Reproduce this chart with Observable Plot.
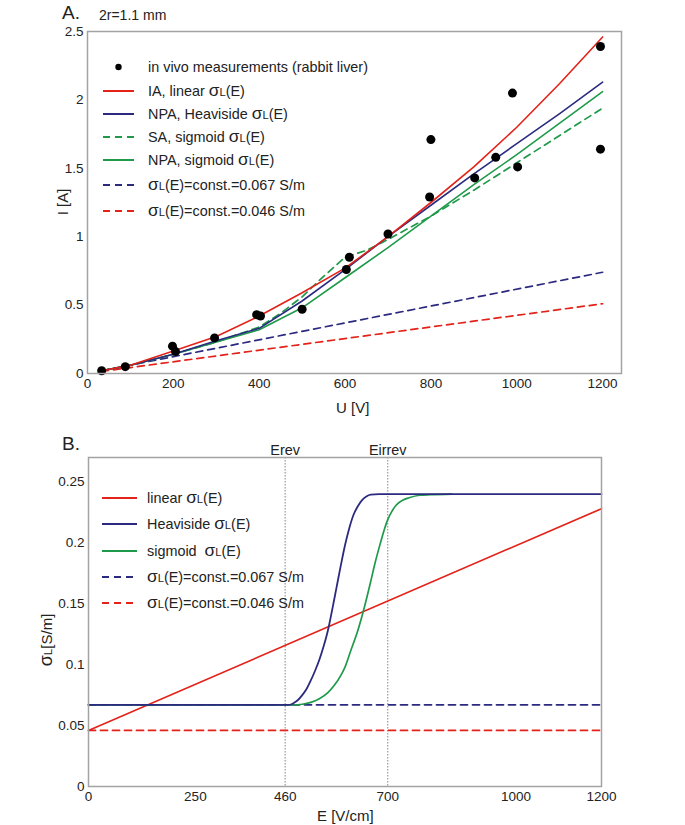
<!DOCTYPE html>
<html><head><meta charset="utf-8">
<script src="https://cdn.jsdelivr.net/npm/d3@7"></script>
<script src="https://cdn.jsdelivr.net/npm/@observablehq/plot@0.6"></script>
<style>
body{margin:0;background:#fff;font-family:"Liberation Sans",Arial,sans-serif;}
#wrap{position:relative;width:685px;height:825px;overflow:hidden;background:#fff}
#wrap svg{position:absolute;left:0}
.abs{position:absolute;white-space:nowrap;color:#222;line-height:1;transform:translateY(-50%)}
.sig{font-size:1.2em}
.L{font-size:0.78em}
</style></head><body><div id="wrap"></div>
<script>
// ---------- Panel A data ----------
const U_meas = [33, 88, 198, 205, 296, 394, 403, 500, 603, 610, 700, 797, 800, 902, 951, 990, 1002, 1195, 1195];
const I_meas = [0.02, 0.05, 0.2, 0.16, 0.26, 0.43, 0.42, 0.47, 0.76, 0.85, 1.02, 1.29, 1.71, 1.43, 1.58, 2.05, 1.51, 2.39, 1.64];
const U_model = [33, 100, 200, 300, 400, 500, 600, 700, 800, 900, 1000, 1100, 1200];
const I_IA_linear = [0.02, 0.06, 0.165, 0.27, 0.42, 0.59, 0.77, 1.0, 1.25, 1.51, 1.8, 2.12, 2.46];
const I_NPA_heaviside = [0.02, 0.06, 0.14, 0.24, 0.33, 0.53, 0.76, 1.0, 1.23, 1.46, 1.68, 1.9, 2.13];
const I_NPA_sigmoid = [0.02, 0.06, 0.14, 0.23, 0.32, 0.48, 0.7, 0.92, 1.15, 1.38, 1.6, 1.83, 2.06];
const U_SA = [33, 100, 200, 300, 400, 450, 500, 550, 600, 650, 700, 800, 900, 1000, 1100, 1200];
const I_SA_sigmoid = [0.02, 0.06, 0.14, 0.23, 0.34, 0.44, 0.56, 0.71, 0.85, 0.9, 0.98, 1.15, 1.34, 1.54, 1.74, 1.94];
const U_const = [33, 1200];
const I_const067 = [0.02, 0.74];
const I_const046 = [0.015, 0.51];
const xTicksA = [0, 200, 400, 600, 800, 1000, 1200];
const yTicksA = [0, 0.5, 1, 1.5, 2, 2.5];

// ---------- Panel B data ----------
const E_linear = [0, 1200];
const S_linear = [0.046, 0.228];
const E_heaviside = [0, 470, 480, 490, 500, 510, 520, 530, 540, 550, 560, 570, 580, 590, 600, 610, 620, 630, 640, 650, 660, 680, 1200];
const S_heaviside = [0.067, 0.067, 0.0685, 0.071, 0.075, 0.08, 0.087, 0.095, 0.104, 0.115, 0.128, 0.145, 0.163, 0.181, 0.198, 0.212, 0.223, 0.23, 0.235, 0.238, 0.2395, 0.24, 0.24];
const E_sigmoid = [0, 480, 500, 520, 540, 560, 575, 590, 600, 613, 630, 643, 660, 670, 683, 692, 700, 710, 720, 735, 750, 775, 800, 850];
const S_sigmoid = [0.067, 0.067, 0.0675, 0.069, 0.072, 0.077, 0.083, 0.091, 0.098, 0.111, 0.128, 0.144, 0.168, 0.183, 0.2, 0.211, 0.219, 0.226, 0.231, 0.235, 0.237, 0.239, 0.2395, 0.24];
const E_const = [0, 1200];
const S_const067 = [0.067, 0.067];
const S_const046 = [0.046, 0.046];
const E_marks = [460, 700];
const E_markLabels = ["Erev", "Eirrev"];
const xTicksB = [0, 250, 460, 700, 1000, 1200];
const yTicksB = [0, 0.05, 0.1, 0.15, 0.2, 0.25];

const RED = "#e32219", NAVY = "#2b2a80", GREEN = "#1f9a4a";
const zip = (xs, ys) => xs.map((x, i) => ({x, y: ys[i]}));
const fmt = d => String(d);
const style = {fontFamily: "Liberation Sans, Arial, sans-serif", fontSize: "13.5px", color: "#222", background: "transparent"};

const plotA = Plot.plot({
  width: 685, height: 420,
  marginTop: 31, marginBottom: 47, marginLeft: 87, marginRight: 64,
  x: {domain: [0, 1244]}, y: {domain: [0, 2.5]},
  style,
  marks: [
    Plot.axisX({ticks: xTicksA, tickSize: 0, tickPadding: 5, label: null, tickFormat: fmt}),
    Plot.axisY({ticks: yTicksA, tickSize: 0, tickPadding: 4, label: null, tickFormat: fmt}),
    Plot.line(zip(U_const, I_const067), {x: "x", y: "y", stroke: NAVY, strokeWidth: 1.7, strokeDasharray: "7,5"}),
    Plot.line(zip(U_const, I_const046), {x: "x", y: "y", stroke: RED, strokeWidth: 1.7, strokeDasharray: "7,5"}),
    Plot.line(zip(U_SA, I_SA_sigmoid), {x: "x", y: "y", stroke: GREEN, strokeWidth: 1.7, strokeDasharray: "7,5"}),
    Plot.line(zip(U_model, I_NPA_sigmoid), {x: "x", y: "y", stroke: GREEN, strokeWidth: 1.6}),
    Plot.line(zip(U_model, I_NPA_heaviside), {x: "x", y: "y", stroke: NAVY, strokeWidth: 1.6}),
    Plot.line(zip(U_model, I_IA_linear), {x: "x", y: "y", stroke: RED, strokeWidth: 1.6}),
    Plot.dot(zip(U_meas, I_meas), {x: "x", y: "y", r: 4.5, fill: "black", stroke: "none"}),
    Plot.frame({stroke: "#a3a3a3", strokeWidth: 1.5})
  ]
});

const plotB = Plot.plot({
  width: 685, height: 405,
  marginTop: 37, marginBottom: 39, marginLeft: 88, marginRight: 84,
  x: {domain: [0, 1200]}, y: {domain: [0, 0.27]},
  style,
  marks: [
    Plot.axisX({ticks: xTicksB, tickSize: 0, tickPadding: 5, label: null, tickFormat: fmt}),
    Plot.axisY({ticks: yTicksB, tickSize: 0, tickPadding: 4, label: null, tickFormat: fmt}),
    Plot.ruleX(E_marks, {stroke: "#777", strokeWidth: 0.9, strokeDasharray: "1.5,1.5"}),
    Plot.text(E_marks, {x: d => d, text: (d, i) => E_markLabels[i], frameAnchor: "top", dy: -13, fontSize: 14.4, fill: "#222"}),
    Plot.line(zip(E_const, S_const046), {x: "x", y: "y", stroke: RED, strokeWidth: 1.8, strokeDasharray: "7,5"}),
    Plot.line(zip(E_const, S_const067), {x: "x", y: "y", stroke: NAVY, strokeWidth: 1.8, strokeDasharray: "7,5"}),
    Plot.line(zip(E_linear, S_linear), {x: "x", y: "y", stroke: RED, strokeWidth: 1.6}),
    Plot.line(zip(E_sigmoid, S_sigmoid), {x: "x", y: "y", stroke: GREEN, strokeWidth: 1.7, curve: "monotone-x"}),
    Plot.line(zip(E_heaviside, S_heaviside), {x: "x", y: "y", stroke: NAVY, strokeWidth: 1.8, curve: "monotone-x"}),
    Plot.frame({stroke: "#a3a3a3", strokeWidth: 1.5})
  ]
});

const wrap = document.getElementById("wrap");
plotA.style.top = "0px";
plotB.style.top = "420px";
wrap.appendChild(plotA);
wrap.appendChild(plotB);

function addText(html, left, top, size, extra) {
  const d = document.createElement("div");
  d.className = "abs";
  d.style.left = left + "px";
  d.style.top = top + "px";
  d.style.fontSize = size + "px";
  if (extra) Object.assign(d.style, extra);
  d.innerHTML = html;
  wrap.appendChild(d);
  return d;
}
const sigL = '<span class="sig">σ</span><span class="L">L</span>';

// titles
addText("A.", 62, 12, 19);
addText("2r=1.1 mm", 99, 15, 14);
addText("B.", 62, 443, 19);
addText("U [V]", 336, 407, 15);
addText("E [V/cm]", 317, 815, 15);
addText("I [A]", 62, 202, 15, {transform: "translate(-50%,-50%) rotate(-90deg)"});
addText(sigL + "[S/m]", 46, 640, 15, {transform: "translate(-50%,-50%) rotate(-90deg)"});

function swatch(y, x1, x2, color, dashed, dot) {
  const ns = "http://www.w3.org/2000/svg";
  const s = document.createElementNS(ns, "svg");
  s.setAttribute("width", 685); s.setAttribute("height", 825);
  s.style.position = "absolute"; s.style.left = "0"; s.style.top = "0"; s.style.pointerEvents = "none";
  if (dot) {
    const c = document.createElementNS(ns, "circle");
    c.setAttribute("cx", (x1 + x2) / 2); c.setAttribute("cy", y); c.setAttribute("r", 3.2);
    c.setAttribute("fill", "black");
    s.appendChild(c);
  } else {
    const l = document.createElementNS(ns, "line");
    l.setAttribute("x1", x1); l.setAttribute("x2", x2); l.setAttribute("y1", y); l.setAttribute("y2", y);
    l.setAttribute("stroke", color); l.setAttribute("stroke-width", 2);
    if (dashed) l.setAttribute("stroke-dasharray", "7,5");
    s.appendChild(l);
  }
  wrap.appendChild(s);
}

// legend A
const legA = [
  {label: "in vivo measurements (rabbit liver)", color: "black", dashed: false, dot: true, y: 67},
  {label: "IA, linear " + sigL + "(E)", color: RED, dashed: false, y: 91},
  {label: "NPA, Heaviside " + sigL + "(E)", color: NAVY, dashed: false, y: 114},
  {label: "SA, sigmoid " + sigL + "(E)", color: GREEN, dashed: true, y: 137},
  {label: "NPA, sigmoid " + sigL + "(E)", color: GREEN, dashed: false, y: 160},
  {label: sigL + "(E)=const.=0.067 S/m", color: NAVY, dashed: true, y: 185},
  {label: sigL + "(E)=const.=0.046 S/m", color: RED, dashed: true, y: 211}
];
legA.forEach(r => {
  swatch(r.y, 103, 134, r.color, r.dashed, r.dot);
  addText(r.label, 148, r.y, 14.4);
});

// legend B
const legB = [
  {label: "linear " + sigL + "(E)", color: RED, dashed: false, y: 498},
  {label: "Heaviside " + sigL + "(E)", color: NAVY, dashed: false, y: 524},
  {label: "sigmoid &nbsp;" + sigL + "(E)", color: GREEN, dashed: false, y: 551},
  {label: sigL + "(E)=const.=0.067 S/m", color: NAVY, dashed: true, y: 577},
  {label: sigL + "(E)=const.=0.046 S/m", color: RED, dashed: true, y: 603}
];
legB.forEach(r => {
  swatch(r.y, 102, 137, r.color, r.dashed, false);
  addText(r.label, 147, r.y, 14.4);
});
</script></body></html>
